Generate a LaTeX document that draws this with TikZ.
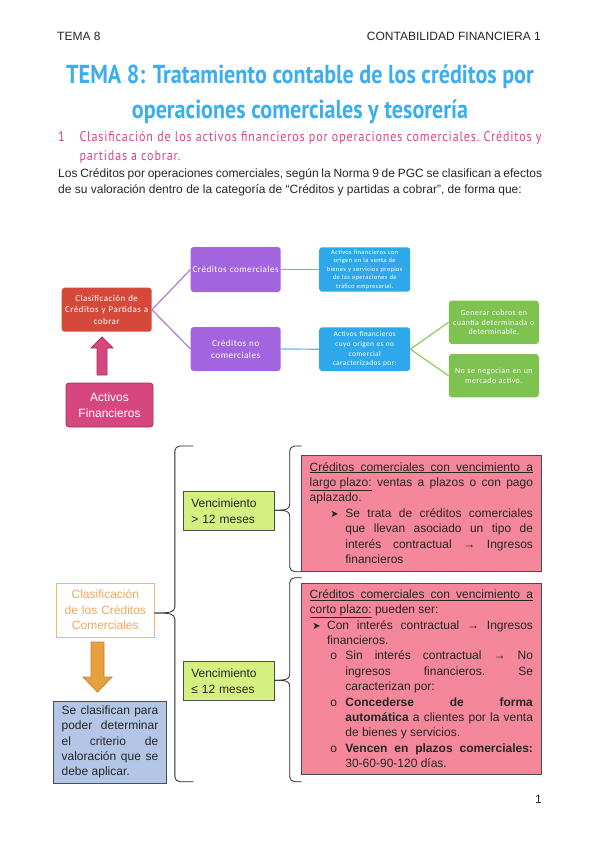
\documentclass[tikz,border=0pt]{standalone}
\usepackage{fontspec}
\setmainfont{Liberation Sans}
\newfontfamily\smartfont[LetterSpace=5]{Carlito}
\newfontfamily\handfont[FakeStretch=0.85]{PT Sans}
\newfontfamily\headfont[FakeStretch=0.86,LetterSpace=6]{PT Sans}
\newfontfamily\symfont{DejaVu Sans}

\definecolor{titleblue}{HTML}{3AAEF0}
\definecolor{headpink}{HTML}{E0408A}
\definecolor{redbox}{HTML}{D5493A}
\definecolor{purplebox}{HTML}{A265DF}
\definecolor{purpleline}{HTML}{A87BE8}
\definecolor{bluebox}{HTML}{2EA8EA}
\definecolor{blueline}{HTML}{57BDF0}
\definecolor{greenbox}{HTML}{7EC24F}
\definecolor{greenline}{HTML}{8DCB5F}
\definecolor{activos}{HTML}{D6477F}
\definecolor{activosedge}{HTML}{A8305F}
\definecolor{pinkbox}{HTML}{F4879A}
\definecolor{limebox}{HTML}{D5EF80}
\definecolor{steelbox}{HTML}{B4C6E6}
\definecolor{orangeedge}{HTML}{F4B56E}
\definecolor{orangetext}{HTML}{F0A860}
\definecolor{orangearrow}{HTML}{E7A03E}
\definecolor{orangearrowedge}{HTML}{C98530}

% bullet at #1, text at #2 (pt from the left edge of the text)
\newcommand{\itm}[3]{\par\leftskip=#2pt\noindent\hskip-\dimexpr#2pt-#1pt\relax\hbox to \dimexpr#2pt-#1pt\relax{#3\hfil}}
\newcommand{\arrowbul}{{\symfont\fontsize{10}{10}\selectfont ➤}}
\newcommand{\fullline}[1]{\hbox to \hsize{\spaceskip=0pt\xspaceskip=0pt #1}}
\newcommand{\just}{\spaceskip=0pt\xspaceskip=0pt\frenchspacing\relax}

\begin{document}
\begin{tikzpicture}[x=1pt,y=-1pt,
    smart/.style={rounded corners=3pt,text=white,align=center,inner sep=1pt},
    plainbox/.style={draw=black!70,line width=0.8pt,inner xsep=8pt,inner ysep=2pt},
    brace/.style={draw=black!85,line width=0.8pt},
    body/.style={font=\fontsize{12}{15.4}\selectfont,text=black!85}]
    \fill[white] (0,0) rectangle (599,848);
    \useasboundingbox (0,0) rectangle (599,848);

    % header
    \node[anchor=base west,inner sep=0,font=\fontsize{12}{14}\selectfont,text=black!85] (hdl) at (57,41) {TEMA 8};
    \node[anchor=base east,inner sep=0,font=\fontsize{12}{14}\selectfont,text=black!85] (hdr) at (541,41) {CONTABILIDAD FINANCIERA 1};

    % title
    \node[anchor=base,inner sep=0,text=titleblue,font=\handfont\bfseries\fontsize{26}{30}\selectfont] (tit1) at (300,84) {TEMA 8: Tratamiento contable de los créditos por};
    \node[anchor=base,inner sep=0,text=titleblue,font=\handfont\bfseries\fontsize{26}{30}\selectfont] (tit2) at (300,118) {operaciones comerciales y tesorería};

    % heading 1
    \node[anchor=base west,inner sep=0,text=headpink,font=\headfont\fontsize{14}{20}\selectfont] (num) at (58,141) {1};
    \node[anchor=base west,inner sep=0,text width=462pt,align=justify,text=headpink,font=\headfont\fontsize{14}{20}\selectfont] (sub) at (79.3,141)
        {\just Clasificación de los activos financieros por operaciones comerciales. Créditos y\linebreak partidas a cobrar.};

    \node[anchor=base west,inner sep=0,text width=484pt,align=justify,body,font=\fontsize{12}{16}\selectfont] (intro) at (58,177)
        {\just Los Créditos por operaciones comerciales, según la Norma 9 de PGC se clasifican a efectos\linebreak de su valoración dentro de la categoría de “Créditos y partidas a cobrar”, de forma que:};

    % smartart
    \node[smart,fill=redbox,minimum width=90pt,minimum height=44pt,text width=88pt,font=\smartfont\fontsize{9}{11.3}\selectfont] (cl) at (106.7,309.7) {Clasificación de\\Créditos y Partidas a\\cobrar};
    \node[smart,fill=purplebox,minimum width=90pt,minimum height=45pt,text width=88pt,font=\smartfont\fontsize{9.2}{11.8}\selectfont] (cc) at (235.7,269.5) {Créditos comerciales};
    \node[smart,fill=purplebox,minimum width=90pt,minimum height=44pt,text width=88pt,font=\smartfont\fontsize{9.2}{11.8}\selectfont] (cnc) at (235.7,349) {Créditos no\\comerciales};
    \node[smart,fill=bluebox,minimum width=90.7pt,minimum height=44.4pt,text width=89pt,font=\smartfont\fontsize{6.5}{8.6}\selectfont] (ac) at (364.7,269.5) {Activos financieros con\\origen en la venta de\\bienes y servicios propios\\de las operaciones de\\tráfico empresarial.};
    \node[smart,fill=bluebox,minimum width=90.7pt,minimum height=43.7pt,text width=89pt,font=\smartfont\fontsize{7.4}{9.7}\selectfont] (anc) at (364.7,349.2) {Activos financieros\\cuyo origen es no\\comercial\\caracterizados por:};
    \node[smart,fill=greenbox,minimum width=89pt,minimum height=43.3pt,text width=88pt,font=\smartfont\fontsize{8}{9.8}\selectfont] (gc) at (493.8,322.3) {Generar cobros en\\cuantía determinada o\\determinable.};
    \node[smart,fill=greenbox,minimum width=89pt,minimum height=43.3pt,text width=88pt,font=\smartfont\fontsize{8}{9.8}\selectfont] (nn) at (493.8,375.7) {No se negocian en un\\mercado activo.};
    \node[smart,draw=activosedge,line width=0.8pt,fill=activos,minimum width=87pt,minimum height=44pt,text width=84pt,font=\fontsize{12}{16}\selectfont] (act) at (109.5,405) {Activos\\Financieros};

    \draw[purpleline,line width=1.2pt] (cl.east) -- (cc.west);
    \draw[purpleline,line width=1.2pt] (cl.east) -- (cnc.west);
    \draw[blueline,line width=1.2pt] (cc.east) -- (ac.west);
    \draw[blueline,line width=1.2pt] (cnc.east) -- (anc.west);
    \draw[greenline,line width=1.2pt] (anc.east) -- (gc.west);
    \draw[greenline,line width=1.2pt] (anc.east) -- (nn.west);

    \filldraw[fill=activos,draw=activosedge,line width=0.8pt] (97,375) -- (97,348) -- (91,348) -- (102,337) -- (113,348) -- (107,348) -- (107,375) -- cycle;

    % clasificacion de los creditos comerciales
    \node[draw=orangeedge,line width=0.9pt,fill=white,minimum width=97.6pt,minimum height=54pt,text width=94pt,align=center,inner sep=1pt,text=orangetext,font=\fontsize{12}{15.5}\selectfont] (ob) at (105.3,610) {Clasificación\\de los Créditos\\Comerciales};
    \filldraw[fill=orangearrow,draw=orangearrowedge,line width=0.8pt] (91,642) -- (91,677) -- (83,677) -- (97.5,692) -- (112,677) -- (104,677) -- (104,642) -- cycle;
    \node[plainbox,fill=steelbox,minimum width=112pt,minimum height=82pt,text width=96.7pt,align=justify,body] (sb) at (110,742)
        {\just\noindent Se clasifican para\linebreak poder determinar\linebreak el criterio de\linebreak valoración que se\linebreak debe aplicar.};

    \node[plainbox,fill=limebox,minimum width=91pt,minimum height=39pt,text width=75pt,align=left,body,font=\fontsize{12}{15.7}\selectfont] (v1) at (228.8,511.2) {Vencimiento\\> 12 meses};
    \node[plainbox,fill=limebox,minimum width=91pt,minimum height=39pt,text width=75pt,align=left,body,font=\fontsize{12}{15.7}\selectfont] (v2) at (228.8,681.2) {Vencimiento\\≤ 12 meses};

    \node[plainbox,fill=pinkbox,minimum width=239.3pt,minimum height=116pt,text width=223.3pt,align=justify,body] (p1) at (421.35,513)
        {\just\noindent\underline{\fullline{Créditos comerciales con vencimiento a}}\par
         \noindent\underline{largo plazo:} ventas a plazos o con pago\linebreak aplazado.
         \itm{20.7}{35.7}{\arrowbul}Se trata de créditos comerciales\linebreak que llevan asociado un tipo de\linebreak interés contractual → Ingresos\linebreak financieros\par};
    \node[plainbox,fill=pinkbox,minimum width=239.3pt,minimum height=190.7pt,text width=223.3pt,align=justify,body] (p2) at (421.35,678.65)
        {\just\noindent\underline{\fullline{Créditos comerciales con vencimiento a}}\par
         \noindent\underline{corto plazo:} pueden ser:
         \itm{2.7}{17.4}{\arrowbul}Con interés contractual → Ingresos\linebreak financieros.
         \itm{20.7}{35.7}{o}Sin interés contractual → No\linebreak ingresos financieros. Se\linebreak caracterizan por:
         \itm{20.7}{35.7}{o}\textbf{Concederse de forma}\linebreak \textbf{automática} a clientes por la venta\linebreak de bienes y servicios.
         \itm{20.7}{35.7}{o}\textbf{Vencen en plazos comerciales:}\linebreak 30-60-90-120 días.\par};

    % braces
    \coordinate (bt1) at (193.3,446);
    \coordinate (bb1) at (193.3,781.7);
    \coordinate (bt2) at (301.7,446);
    \coordinate (bb2) at (301.7,571.7);
    \coordinate (bt3) at (301.7,577.7);
    \coordinate (bb3) at (301.7,781.7);
    \draw[brace] ([yshift=-3pt]ob.east) -- ++(6,0) .. controls +(8,0) and +(0,5) .. ++(14.3,-6) [rounded corners=5pt] |- (bt1);
    \draw[brace] ([yshift=-3pt]ob.east) -- ++(6,0) .. controls +(8,0) and +(0,-5) .. ++(14.3,6) [rounded corners=5pt] |- (bb1);
    \draw[brace] ([yshift=1pt]v1.east) -- ++(3,0) .. controls +(8,0) and +(0,5) .. ++(12,-6) [rounded corners=5pt] |- (bt2);
    \draw[brace] ([yshift=1pt]v1.east) -- ++(3,0) .. controls +(8,0) and +(0,-5) .. ++(12,6) [rounded corners=5pt] |- (bb2);
    \draw[brace] ([yshift=1pt]v2.east) -- ++(3,0) .. controls +(8,0) and +(0,5) .. ++(12,-6) [rounded corners=5pt] |- (bt3);
    \draw[brace] ([yshift=1pt]v2.east) -- ++(3,0) .. controls +(8,0) and +(0,-5) .. ++(12,6) [rounded corners=5pt] |- (bb3);

    \node[anchor=base,inner sep=0,font=\fontsize{12}{14}\selectfont,text=black!85] (pg) at (538.5,803) {1};
\end{tikzpicture}
\end{document}
